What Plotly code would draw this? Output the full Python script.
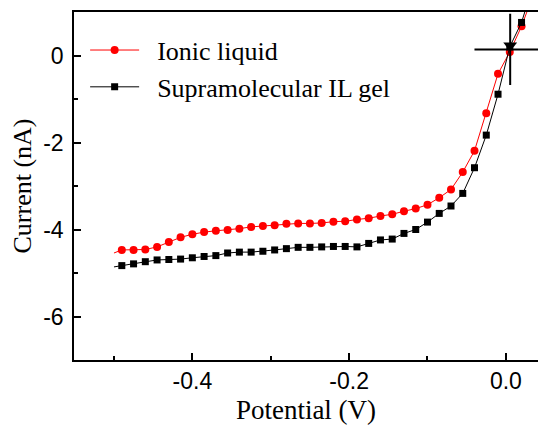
import plotly.graph_objects as go

# Potential (V) at which markers were recorded
potential = [-0.49, -0.475, -0.46, -0.445, -0.43, -0.415, -0.40, -0.385, -0.37,
             -0.355, -0.34, -0.325, -0.31, -0.295, -0.28, -0.265, -0.25, -0.235,
             -0.22, -0.205, -0.19, -0.175, -0.16, -0.145, -0.13, -0.115, -0.10,
             -0.085, -0.07, -0.055, -0.04, -0.025, -0.01, 0.005, 0.02, 0.037]

ionic_liquid = [-4.47, -4.47, -4.46, -4.40, -4.29, -4.18, -4.11, -4.06, -4.03,
                -4.01, -3.98, -3.94, -3.92, -3.90, -3.87, -3.86, -3.86, -3.85,
                -3.82, -3.81, -3.77, -3.74, -3.69, -3.65, -3.58, -3.52, -3.43,
                -3.27, -3.08, -2.68, -2.19, -1.33, -0.42, 0.08, 0.67, 1.5]

il_gel = [-4.83, -4.79, -4.74, -4.70, -4.69, -4.68, -4.65, -4.62, -4.60,
          -4.54, -4.52, -4.52, -4.50, -4.47, -4.44, -4.41, -4.41, -4.40,
          -4.39, -4.39, -4.40, -4.32, -4.24, -4.22, -4.09, -4.00, -3.83,
          -3.63, -3.46, -3.17, -2.58, -1.83, -0.89, 0.20, 0.76, 1.75]

# Start of the sweep (line only, before first marker)
start_v = [-0.50, -0.49]
start_il = [-4.54, -4.47]
start_gel = [-4.86, -4.83]

# Crosshair marker (open-circuit point)
cross_v = [0.0055]
cross_i = [0.14]
arrow_i = [0.23]

x_ticks = [-0.4, -0.2, 0.0]
x_ticklabels = ["-0.4", "-0.2", "0.0"]
y_ticks = [0, -2, -4, -6]
y_ticklabels = ["0", "-2", "-4", "-6"]

RED = "#ff0000"
BLACK = "#000000"

fig = go.Figure()
fig.add_trace(go.Scatter(
    x=start_v, y=start_il, mode="lines", showlegend=False,
    line=dict(color=RED, width=1),
))
fig.add_trace(go.Scatter(
    x=start_v, y=start_gel, mode="lines", showlegend=False,
    line=dict(color=BLACK, width=1),
))
fig.add_trace(go.Scatter(
    x=potential, y=ionic_liquid, mode="lines+markers",
    name="\u00a0\u00a0Ionic liquid",
    line=dict(color=RED, width=1),
    marker=dict(symbol="circle", size=8, color=RED),
))
fig.add_trace(go.Scatter(
    x=potential, y=il_gel, mode="lines+markers",
    name="\u00a0\u00a0Supramolecular IL gel",
    line=dict(color=BLACK, width=1),
    marker=dict(symbol="square", size=7, color=BLACK),
))
fig.add_trace(go.Scatter(
    x=cross_v, y=cross_i, mode="markers", showlegend=False,
    marker=dict(symbol="cross-thin", size=51, line=dict(color=BLACK, width=2)),
))
fig.add_trace(go.Scatter(
    x=cross_v, y=arrow_i, mode="markers", showlegend=False,
    marker=dict(symbol="triangle-down", size=12, color=BLACK),
))

axis_font = dict(family="Liberation Sans, Arial", size=23, color="black")
serif = "Liberation Serif, Times New Roman"

fig.update_layout(
    width=538, height=425,
    margin=dict(l=74, r=0, t=12, b=65),
    paper_bgcolor="white", plot_bgcolor="white",
    showlegend=True,
    legend=dict(
        x=0.024, y=0.958, xanchor="left", yanchor="top",
        font=dict(family=serif, size=26, color="black"),
        bgcolor="rgba(0,0,0,0)", tracegroupgap=0, itemwidth=49,
    ),
    xaxis=dict(
        range=[-0.551, 0.041], showgrid=False, zeroline=False,
        showline=True, linecolor="black", linewidth=1.5, mirror=True,
        ticks="inside", ticklen=7, tickwidth=1.5, tickcolor="black",
        tickvals=x_ticks, ticktext=x_ticklabels, tickfont=axis_font,
        minor=dict(tickvals=[-0.5, -0.3, -0.1], ticks="inside", ticklen=4,
                   tickwidth=1.5, tickcolor="black"),
        title=dict(text="Potential (V)", font=dict(family=serif, size=27, color="black"),
                   standoff=9),
    ),
    yaxis=dict(
        range=[-7, 1], showgrid=False, zeroline=False,
        showline=True, linecolor="black", linewidth=1.5, mirror=False,
        ticks="inside", ticklen=7, tickwidth=1.5, tickcolor="black",
        tickvals=y_ticks, ticktext=y_ticklabels, tickfont=axis_font,
        ticklabelstandoff=4,
        minor=dict(tickvals=[-1, -3, -5], ticks="inside", ticklen=4,
                   tickwidth=1.5, tickcolor="black"),
        title=dict(text="Current (nA)", font=dict(family=serif, size=26, color="black"),
                   standoff=4),
    ),
)

fig.write_html("out.html")
